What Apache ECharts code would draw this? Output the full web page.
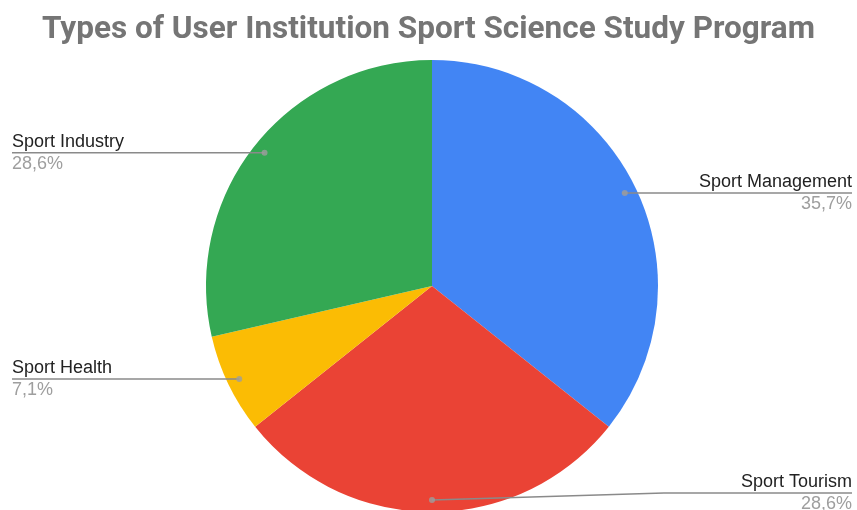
<!DOCTYPE html>
<html>
<head>
<meta charset="utf-8">
<script src="https://cdn.jsdelivr.net/npm/echarts@6/dist/echarts.min.js"></script>
<style>
	html, body { margin: 0; padding: 0; background: #fff; }
	#chart { width: 857px; height: 510px; }
</style>
</head>
<body>
<div id="chart"></div>
<script>
	const categories = ["Sport Management", "Sport Tourism", "Sport Health", "Sport Industry"];
	const shares = [35.7, 28.6, 7.1, 28.6];
	const colors = ["#4285f4", "#ea4335", "#fbbc04", "#34a853"];

	const W = 857, H = 510;
	const cx = 432, cy = 286;
	const R = 226, dotR = 214;

	// 百分比，逗号小数
	const fmt = v => v.toFixed(1).replace(".", ",") + "%";

	const total = shares.reduce((a, b) => a + b, 0);
	const mids = [];
	let acc = 0;
	shares.forEach(v => { mids.push(acc + v / 2); acc += v; });

	const chart = echarts.init(document.getElementById("chart"));

	const option = {
		animation: false,
		title: {
			text: "Types of User Institution Sport Science Study Program",
			left: "center",
			top: 9,
			textStyle: {
				fontFamily: "Roboto, sans-serif",
				fontWeight: "bold",
				fontSize: 31.5,
				color: "#757575"
			}
		},
		polar: { center: [cx, cy], radius: dotR },
		angleAxis: { type: "value", min: 0, max: total, startAngle: 90, clockwise: true, show: false },
		radiusAxis: { type: "value", min: 0, max: 1, show: false },
		series: [
			{
				type: "pie",
				center: [cx, cy],
				radius: R,
				startAngle: 90,
				clockwise: true,
				silent: true,
				z: 1,
				label: { show: false },
				labelLine: { show: false },
				itemStyle: { borderWidth: 0 },
				data: categories.map((name, i) => ({
					name, value: shares[i], itemStyle: { color: colors[i] }
				}))
			},
			{
				type: "pie",
				center: [cx, cy],
				radius: dotR,
				startAngle: 90,
				clockwise: true,
				silent: true,
				z: 4,
				itemStyle: { color: "transparent" },
				label: {
					show: true,
					position: "outside",
					formatter: p => "{n|" + p.name + "}\n{p|" + fmt(p.value) + "}",
					rich: {
						n: { fontSize: 18, color: "#222", lineHeight: 22, fontFamily: "'Liberation Sans', Arial, sans-serif" },
						p: { fontSize: 18, color: "#9e9e9e", lineHeight: 22, fontFamily: "'Liberation Sans', Arial, sans-serif" }
					}
				},
				labelLine: { show: true, length: 10, length2: 10, lineStyle: { color: "#8a8a8a", width: 1.5 } },
				labelLayout: params => {
					const a = mids[params.dataIndex] / total * Math.PI * 2;
					const sx = cx + dotR * Math.sin(a);
					const sy = cy - dotR * Math.cos(a);
					const left = sx < cx - 1;
					const w = params.labelRect.width, h = params.labelRect.height;
					let y = sy;
					if (y + h / 2 > H + 3) y = H + 3 - h / 2;
					const outerX = left ? 12 : W - 5;
					const innerX = left ? outerX + w : outerX - w;
					const bendX = left ? innerX + 75 : innerX - 77;
					return {
						x: outerX,
						y: y,
						align: left ? "left" : "right",
						verticalAlign: "middle",
						labelLinePoints: [[sx, sy], [bendX, y], [outerX, y]]
					};
				},
				data: categories.map((name, i) => ({ name, value: shares[i] }))
			},
			{
				type: "scatter",
				coordinateSystem: "polar",
				silent: true,
				symbolSize: 6,
				itemStyle: { color: "#9e9e9e" },
				z: 5,
				data: mids.map(m => [1, m])
			}
		]
	};

	chart.setOption(option);
</script>
</body>
</html>
